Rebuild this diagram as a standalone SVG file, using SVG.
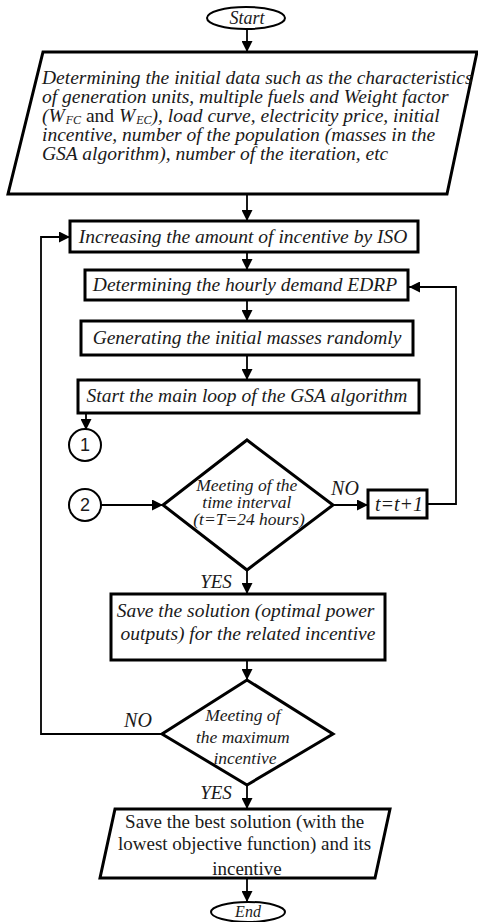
<svg xmlns="http://www.w3.org/2000/svg" width="478" height="922" viewBox="0 0 478 922">
<defs>
<marker id="ah" viewBox="0 0 10 10" refX="10" refY="5" markerWidth="11" markerHeight="11" markerUnits="userSpaceOnUse" orient="auto">
<path d="M0,0 L10,5 L0,10 z" fill="#000"/>
</marker>
</defs>
<style>
.sh{fill:#fff;stroke:#000;stroke-width:3}
.ov{fill:#fff;stroke:#000;stroke-width:2}
.cn{fill:none;stroke:#000;stroke-width:1.8}
.t{font-family:"Liberation Serif","Times New Roman",serif;font-style:italic;fill:#1a1a1a}
.r{font-family:"Liberation Serif","Times New Roman",serif;fill:#1a1a1a}
.s{font-family:"Liberation Sans",Arial,sans-serif;fill:#1a1a1a}
</style>
<rect width="478" height="922" fill="#fff"/>
<g id="connectors">
<line class="cn" x1="247" y1="29" x2="247" y2="52" marker-end="url(#ah)"/>
<line class="cn" x1="247" y1="195" x2="247" y2="221" marker-end="url(#ah)"/>
<line class="cn" x1="247" y1="252" x2="247" y2="270" marker-end="url(#ah)"/>
<line class="cn" x1="247" y1="300" x2="247" y2="321" marker-end="url(#ah)"/>
<line class="cn" x1="247" y1="355" x2="247" y2="380" marker-end="url(#ah)"/>
<line class="cn" x1="86" y1="413" x2="86" y2="430" marker-end="url(#ah)"/>
<line class="cn" x1="101" y1="505" x2="163" y2="505" marker-end="url(#ah)"/>
<line class="cn" x1="333" y1="505" x2="368" y2="505" marker-end="url(#ah)"/>
<path class="cn" d="M427,504 H456 V287 H409" marker-end="url(#ah)"/>
<line class="cn" x1="247" y1="570" x2="247" y2="594" marker-end="url(#ah)"/>
<line class="cn" x1="247" y1="660" x2="247" y2="680" marker-end="url(#ah)"/>
<path class="cn" d="M162,734 H41 V237 H70" marker-end="url(#ah)"/>
<line class="cn" x1="247" y1="785" x2="247" y2="809" marker-end="url(#ah)"/>
<line class="cn" x1="247" y1="878" x2="247" y2="902" marker-end="url(#ah)"/>
<text class="t" x="345" y="495" font-size="20" text-anchor="middle">NO</text>
<text class="t" x="216" y="588" font-size="19" text-anchor="middle">YES</text>
<text class="t" x="138" y="727" font-size="20" text-anchor="middle">NO</text>
<text class="t" x="216" y="799" font-size="19" text-anchor="middle">YES</text>
</g>
<g id="start">
<ellipse class="ov" cx="246" cy="18" rx="39" ry="11"/>
<text class="t" x="247" y="24" font-size="18" text-anchor="middle">Start</text>
</g>
<g id="init-data">
<polygon class="sh" points="43,52 477,52 447,194 8,194"/>
<text class="t" font-size="19.5">
<tspan x="42" y="84">Determining the initial data such as the characteristics</tspan>
<tspan x="42" y="103">of generation units, multiple fuels and Weight factor</tspan>
<tspan x="42" y="141">incentive, number of the population (masses in the</tspan>
<tspan x="42" y="160">GSA algorithm), number of the iteration, etc</tspan>
</text>
<text class="t" font-size="19.5" x="42" y="122">(W<tspan font-size="12" dx="1" dy="2">FC</tspan><tspan dy="-2" font-style="normal"> and </tspan><tspan>W</tspan><tspan font-size="12" dx="1" dy="2">EC</tspan><tspan dy="-2">), load curve, electricity price, initial</tspan></text>
</g>
<g id="increase-incentive">
<rect class="sh" x="70" y="221" width="348" height="31"/>
<text class="t" x="243" y="243" font-size="19.5" text-anchor="middle">Increasing the amount of incentive by ISO</text>
</g>
<g id="hourly-demand">
<rect class="sh" x="85" y="270" width="323" height="30"/>
<text class="t" x="245" y="291" font-size="19.5" text-anchor="middle">Determining the hourly demand EDRP</text>
</g>
<g id="initial-masses">
<rect class="sh" x="81" y="321" width="332" height="34"/>
<text class="t" x="247" y="344" font-size="19.5" text-anchor="middle">Generating the initial masses randomly</text>
</g>
<g id="main-loop">
<rect class="sh" x="78" y="380" width="341" height="33"/>
<text class="t" x="247" y="402" font-size="19.5" text-anchor="middle">Start the main loop of the GSA algorithm</text>
</g>
<g id="connector-1">
<circle class="ov" cx="85" cy="445" r="16"/>
<text class="s" x="85" y="451" font-size="18" text-anchor="middle">1</text>
</g>
<g id="connector-2">
<circle class="ov" cx="85" cy="505" r="16"/>
<text class="s" x="85" y="511" font-size="18" text-anchor="middle">2</text>
</g>
<g id="time-interval">
<polygon class="sh" points="247,440 333,505 247,570 163,505"/>
<text class="t" font-size="17.5" text-anchor="middle">
<tspan x="249" y="491">Meeting of the</tspan>
<tspan x="249" y="508">time interval</tspan>
<tspan x="249" y="525">(t=T=24 hours)</tspan>
</text>
</g>
<g id="t-increment">
<rect class="sh" x="368" y="490" width="59" height="28"/>
<text class="t" x="399" y="511" font-size="20" text-anchor="middle">t=t+1</text>
</g>
<g id="save-solution">
<rect class="sh" x="111" y="594" width="274" height="66"/>
<text class="t" font-size="19.5" text-anchor="middle">
<tspan x="248" y="617">Save the solution (optimal power</tspan>
<tspan x="248" y="640">outputs) for the related incentive</tspan>
</text>
</g>
<g id="max-incentive">
<polygon class="sh" points="247,680 333,734 247,785 162,734"/>
<text class="t" font-size="17.5" text-anchor="middle">
<tspan x="245" y="721">Meeting of</tspan>
<tspan x="245" y="743">the maximum</tspan>
<tspan x="245" y="764">incentive</tspan>
</text>
</g>
<g id="best-solution">
<polygon class="sh" points="115,809 390,809 375,878 100,878"/>
<text class="r" font-size="19" text-anchor="middle">
<tspan x="247" y="828">Save the best solution (with the</tspan>
<tspan x="247" y="850">lowest objective function) and its</tspan>
<tspan x="247" y="875">incentive</tspan>
</text>
</g>
<g id="end">
<ellipse class="ov" cx="248" cy="912" rx="37" ry="10"/>
<text class="t" x="248" y="917" font-size="16" text-anchor="middle">End</text>
</g>
</svg>
